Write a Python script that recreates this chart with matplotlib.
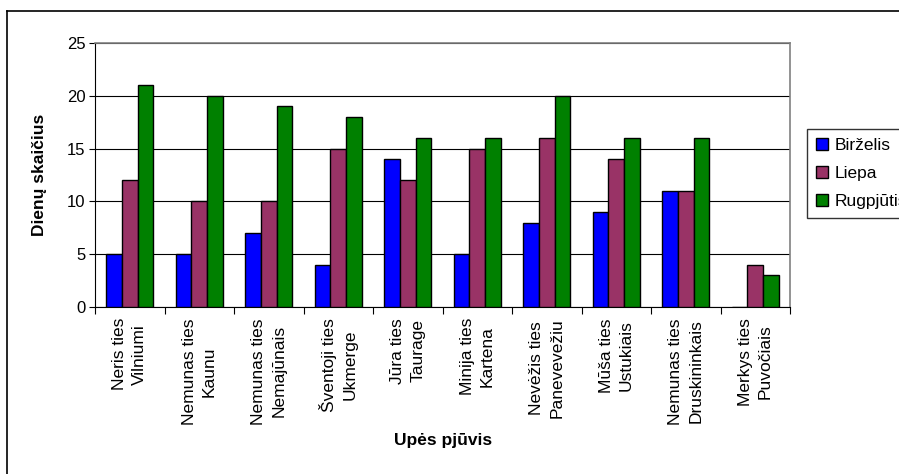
import matplotlib.pyplot as plt
import numpy as np
from matplotlib.lines import Line2D

plt.rcParams['font.family'] = ['Liberation Sans', 'DejaVu Sans']

# upių pjūviai (dvi eilutės kiekvienam)
pjuviai = ["Neris ties\nVilniumi", "Nemunas ties\nKaunu", "Nemunas ties\nNemajūnais",
           "Šventoji ties\nUkmerge", "Jūra ties\nTaurage", "Minija ties\nKartena",
           "Nevėžis ties\nPaneveve\u017eiu", "Mūša ties\nUstukiais",
           "Nemunas ties\nDruskininkais", "Merkys ties\nPuvočiais"]
birzelis = [5, 5, 7, 4, 14, 5, 8, 9, 11, 0]
liepa = [12, 10, 10, 15, 12, 15, 16, 14, 11, 4]
rugpjutis = [21, 20, 19, 18, 16, 16, 20, 16, 16, 3]
menesiai = ["Birželis", "Liepa", "Rugpjūtis"]
spalvos = ["#0000FF", "#993366", "#008000"]

W, H = 899, 474
fig = plt.figure(figsize=(W / 100, H / 100), dpi=100)
ax = fig.add_axes([95 / W, (H - 307) / H, 695 / W, 264 / H])

x = np.arange(len(pjuviai))
w = 0.225
for i, (vals, lab, c) in enumerate(zip([birzelis, liepa, rugpjutis], menesiai, spalvos)):
    ax.bar(x + (i - 1) * w, vals, width=w, color=c, edgecolor="black", linewidth=1,
           label=lab, zorder=3)

ax.set_xlim(-0.5, len(pjuviai) - 0.5)
ax.set_ylim(0, 25)
ax.set_yticks([0, 5, 10, 15, 20, 25])
ax.yaxis.grid(True, color="black", linewidth=0.8, zorder=0)
ax.tick_params(axis="y", labelsize=12, length=4, direction="out", pad=3)

ax.set_xticks(np.arange(len(pjuviai) + 1) - 0.5)
ax.set_xticklabels([])
ax.set_xticks(x, minor=True)
ax.set_xticklabels(pjuviai, minor=True, rotation=90, ha="center", va="top",
                   multialignment="center", fontsize=12.5, linespacing=1.4)
ax.tick_params(axis="x", which="major", length=5, direction="out")
ax.tick_params(axis="x", which="minor", length=0, pad=8)

for s in ["top", "right"]:
    ax.spines[s].set_color("#808080")
    ax.spines[s].set_linewidth(1.2)
for s in ["left", "bottom"]:
    ax.spines[s].set_color("black")

ax.set_ylabel("Dienų skaičius", fontsize=12.5, fontweight="bold", labelpad=14)
fig.text(443 / W, 1 - 440 / H, "Upės pjūvis", fontsize=12.5, fontweight="bold",
         ha="center", va="center")

leg = ax.legend(loc="upper left", bbox_to_anchor=(807 / W, 1 - 129 / H),
                bbox_transform=fig.transFigure, fontsize=12.5, frameon=True,
                fancybox=False, edgecolor="black", handlelength=0.7, handleheight=0.7,
                handletextpad=0.4, borderpad=0.5, labelspacing=0.75, borderaxespad=0)
leg.get_frame().set_linewidth(1)

# ramelis aplink diagramą
fig.add_artist(Line2D([7 / W, 7 / W], [0, 1 - 11 / H], transform=fig.transFigure,
                      color="black", linewidth=1.2))
fig.add_artist(Line2D([7 / W, 1], [1 - 11 / H, 1 - 11 / H], transform=fig.transFigure,
                      color="black", linewidth=1.2))

fig.savefig("out.png", dpi=100)
